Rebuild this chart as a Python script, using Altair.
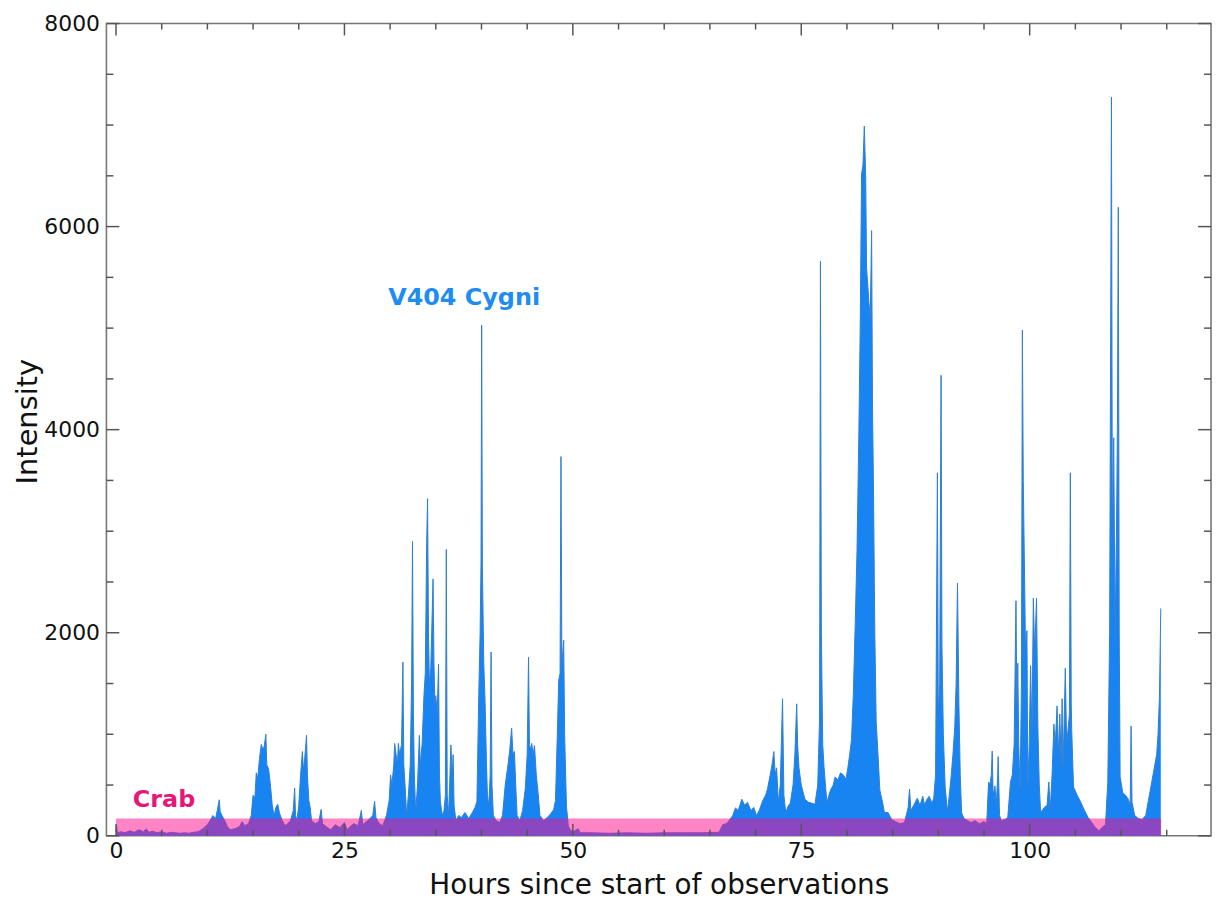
import altair as alt
import pandas as pd

# ---------------- data ----------------
hours_a = [0.0, 0.05, 0.15, 0.5, 1.0, 1.5, 2.0, 2.5, 3.0, 3.3, 3.6, 4.0, 4.5, 5.0, 5.5, 6.0, 6.5, 7.0, 7.5, 8.0,
           8.5, 9.0, 9.5, 10.0, 10.3, 10.6, 10.9, 11.1, 11.3, 11.4, 11.6, 11.9, 12.2, 12.5, 13.0, 13.5, 13.8, 14.1, 14.5, 14.8]
inten_a = [40, 100, 30, 40, 30, 50, 35, 60, 40, 70, 35, 45, 30, 40, 25, 35, 30, 25, 30, 25,
           35, 40, 70, 110, 150, 200, 170, 260, 355, 240, 200, 150, 90, 60, 70, 90, 140, 100, 120, 200]

hours_b = [15.0, 15.2, 15.35, 15.5, 15.7, 15.9, 16.05, 16.2, 16.4, 16.5, 16.7, 16.9, 17.1, 17.3, 17.5, 17.7, 17.9, 18.2,
           18.5, 18.8, 19.1, 19.4, 19.55, 19.65, 19.8, 20.0, 20.2, 20.4, 20.5, 20.65, 20.85, 20.95, 21.1, 21.25, 21.4,
           21.8, 22.2, 22.45, 22.6, 23.0, 23.5, 24.0, 24.5, 25.0, 25.3, 25.6, 26.0, 26.5, 26.85, 27.0, 27.4, 27.8, 28.1,
           28.3, 28.45, 28.8, 29.2, 29.6, 29.9]
inten_b = [400, 370, 620, 560, 760, 900, 860, 870, 1000, 700, 660, 500, 300, 200, 280, 310, 220, 150,
           100, 120, 150, 250, 470, 200, 150, 300, 600, 830, 650, 760, 990, 600, 350, 280, 150,
           120, 140, 260, 120, 90, 60, 110, 80, 130, 60, 90, 120, 100, 250, 110, 140, 170, 200,
           340, 180, 120, 100, 200, 350]

hours_c = [30.05, 30.2, 30.4, 30.5, 30.65, 30.8, 30.9, 31.05, 31.25, 31.4,
           31.5, 31.7, 31.8, 32.0, 32.2, 32.35, 32.45, 32.55, 32.65, 32.8,
           33.0, 33.2, 33.3, 33.5, 33.7, 33.85, 34.0, 34.1, 34.2, 34.3,
           34.45, 34.55, 34.7, 34.8, 34.9, 35.0, 35.15, 35.3, 35.4, 35.5,
           35.7, 35.9, 36.05, 36.15, 36.25, 36.4, 36.55, 36.65, 36.8, 36.9,
           37.0, 37.2, 37.5, 37.8, 38.2, 38.6, 39.0, 39.3, 39.5, 39.7,
           39.85, 39.95, 40.02, 40.1, 40.25, 40.4, 40.55, 40.65, 40.8, 40.95,
           41.05, 41.15, 41.3, 41.6, 42.0, 42.3, 42.6, 42.9, 43.1, 43.3,
           43.45, 43.6, 43.75, 43.9, 44.2, 44.5, 44.8, 45.0, 45.15, 45.25,
           45.4, 45.5, 45.65, 45.8, 46.0, 46.2, 46.4, 46.8, 47.2, 47.6,
           47.9, 48.1, 48.3, 48.45, 48.6, 48.7, 48.8, 49.0, 49.1, 49.3,
           49.5, 49.7]
inten_c = [600, 500, 700, 910, 800, 700, 910, 800, 900, 1710,
           700, 400, 200, 400, 700, 1500, 2900, 1200, 600, 230,
           500, 990, 700, 900, 1380, 1600, 2890, 3320, 2000, 1500,
           1650, 2000, 2530, 1700, 1300, 1380, 1200, 1690, 600, 340,
           200, 250, 400, 2820, 400, 200, 600, 895, 600, 800,
           300, 150, 200, 180, 230, 170, 230, 280, 340, 1380,
           2000, 2700, 5030, 2650, 1700, 1300, 700, 400, 300, 600,
           1810, 500, 200, 150, 130, 200, 500, 700, 850, 1060,
           800, 830, 500, 200, 150, 250, 470, 800, 1760, 900,
           850, 910, 800, 890, 600, 420, 200, 150, 180, 220,
           260, 350, 1000, 1530, 1600, 3735, 1700, 1925, 1000, 290,
           100, 60]

hours_d = [50.0, 50.6, 50.8, 52.0, 54.0, 56.0, 58.0, 60.0, 62.0, 64.0,
           66.0, 66.4, 66.8, 67.1, 67.5, 67.8, 68.1, 68.5, 68.8, 69.1,
           69.5, 69.8, 70.1, 70.4, 70.8, 71.1, 71.3, 71.6, 71.8, 72.0,
           72.15, 72.3, 72.5, 72.7, 72.95, 73.1, 73.3, 73.6, 73.8, 74.1,
           74.3, 74.5, 74.6, 74.75, 75.0, 75.4, 75.8, 76.2, 76.5, 76.8,
           77.0, 77.1, 77.2, 77.35, 77.5, 77.8]
inten_d = [40, 70, 30, 30, 25, 30, 25, 30, 30, 30,
           35, 110, 120, 150, 200, 275, 250, 360, 300, 330,
           250, 280, 200, 250, 350, 400, 460, 600, 700, 830,
           600, 670, 330, 500, 1350, 400, 230, 300, 320, 500,
           800, 1300, 900, 670, 500, 360, 330, 320, 310, 500,
           1140, 5660, 2000, 900, 670, 330]

hours_e = [78.2, 78.5, 78.7, 79.0, 79.3, 79.6, 79.9, 80.1, 80.3, 80.5,
           80.7, 80.9, 81.1, 81.3, 81.45, 81.6, 81.75, 81.9, 82.05, 82.15,
           82.3, 82.4, 82.55, 82.7, 82.8, 82.9, 83.05, 83.2, 83.4, 83.6,
           83.9, 84.1, 84.5, 84.9, 85.3, 85.8, 86.3, 86.7, 86.85, 87.0,
           87.3, 87.7, 88.0, 88.3, 88.5, 88.7, 89.0, 89.3, 89.5, 89.7,
           89.9, 90.0, 90.15, 90.3, 90.4, 90.55, 90.75, 91.0, 91.2, 91.4,
           91.6, 91.8, 91.95, 92.1, 92.25, 92.4, 92.55, 92.8, 93.2, 93.6,
           94.0, 94.5, 95.0, 95.3]
inten_e = [450, 500, 580, 550, 620, 600, 560, 670, 800, 950,
           1400, 2070, 2800, 3940, 5000, 6520, 6600, 6990, 6500, 5590,
           5400, 5260, 5100, 5960, 4200, 3480, 2000, 1130, 800, 450,
           330, 230, 230, 160, 140, 120, 130, 280, 460, 250,
           300, 370, 300, 390, 300, 350, 390, 320, 370, 600,
           3575, 1200, 1500, 4535, 1870, 1000, 480, 240, 400, 580,
           800, 1070, 1500, 2490, 1320, 600, 230, 170, 150, 130,
           150, 120, 140, 120]

hours_f = [95.5, 95.65, 95.8, 95.9, 96.0, 96.2, 96.35, 96.5, 96.55, 96.7,
           96.9, 97.3, 97.6, 97.9, 98.1, 98.3, 98.5, 98.6, 98.7, 98.8,
           98.95, 99.1, 99.2, 99.3, 99.4, 99.55, 99.7, 99.8, 99.95, 100.1,
           100.25, 100.4, 100.55, 100.75, 100.9, 101.05, 101.2, 101.6, 101.9, 102.1,
           102.25, 102.45, 102.65, 102.8, 103.0, 103.15, 103.3, 103.45, 103.55, 103.65,
           103.9, 104.05, 104.2, 104.35, 104.45, 104.55, 104.6, 104.8, 105.2, 105.6,
           106.0, 106.4, 106.8, 107.2, 107.6, 108.0, 108.3, 108.55, 108.75, 108.95,
           109.05, 109.2, 109.35, 109.5, 109.6, 109.7, 109.8, 109.9, 110.2, 110.5,
           110.8, 111.0, 111.1, 111.2, 111.5, 111.9, 112.3, 112.7, 113.0, 113.1,
           113.3, 113.5, 113.7, 113.9, 114.05, 114.2, 114.35]
inten_f = [530, 500, 600, 835, 400, 490, 300, 600, 780, 200,
           150, 160, 180, 530, 600, 900, 2315, 1300, 1700, 900,
           440, 1500, 4980, 3500, 2830, 1800, 2020, 480, 900, 1675,
           1000, 2340, 1800, 2340, 1060, 500, 230, 280, 300, 530,
           250, 600, 1100, 900, 1280, 800, 1200, 700, 1350, 650,
           1650, 900, 1050, 1200, 3575, 1300, 1050, 480, 400, 330,
           250, 180, 130, 80, 50, 90, 110, 530, 2000, 7276,
           3000, 3920, 2000, 2980, 4000, 6190, 2000, 580, 420, 400,
           360, 300, 1080, 330, 200, 170, 160, 200, 350, 400,
           500, 600, 700, 800, 1000, 1360, 2240]

# Crab reference level (band)
crab_start = [0.0]
crab_end = [114.4]
crab_low = [0]
crab_level = [170]

# annotations
label_text = ["V404 Cygni", "Crab"]
label_hours = [38.1, 5.25]
label_intensity = [5300, 353]
label_color = ["#1e8cf0", "#e6177a"]

# axis ticks
x_ticks_major = [0, 25, 50, 75, 100]
x_ticks_minor = [5, 10, 15, 20, 30, 35, 40, 45, 55, 60, 65, 70, 80, 85, 90, 95, 105, 110, 115]
y_ticks_major = [0, 2000, 4000, 6000, 8000]
y_ticks_minor = [500, 1000, 1500, 2500, 3000, 3500, 4500, 5000, 5500, 6500, 7000, 7500]

# ---------------- build ----------------
hours = hours_a + hours_b + hours_c + hours_d + hours_e + hours_f
intensity = inten_a + inten_b + inten_c + inten_d + inten_e + inten_f
assert len(hours) == len(intensity)

FONT = "DejaVu Sans"
BLUE = "#1784f2"
EDGE = "#2f7fd2"
PINK = "#ff0a8c"
TICK = "#555555"
W, H = 1111, 817

series = pd.DataFrame({"h": hours, "v": intensity})
crab = pd.DataFrame({"h": crab_start, "h2": crab_end, "v": crab_low, "v2": crab_level})
labels = pd.DataFrame({"h": label_hours, "v": label_intensity, "t": label_text, "c": label_color})

xs = alt.Scale(domain=[-1.05, 119.85], nice=False, zero=False)
ys = alt.Scale(domain=[0, 8000], nice=False, zero=True)

x_axis = alt.Axis(values=x_ticks_major, ticks=False, grid=False, domain=False,
                  labelFont=FONT, labelFontSize=22, labelColor="#111", labelPadding=5,
                  labelFlush=False, titleFont=FONT, titleFontSize=28, titleFontWeight="normal",
                  titleColor="#111", titleY=58, titleBaseline="alphabetic")
y_axis = alt.Axis(values=y_ticks_major, ticks=False, grid=False, domain=False, format="d",
                  labelFont=FONT, labelFontSize=22, labelColor="#111", labelPadding=7,
                  labelFlush=False, titleFont=FONT, titleFontSize=29, titleFontWeight="normal",
                  titleColor="#111", titleX=-70, titleY=400, titleBaseline="alphabetic")

XT = "Hours since start of observations"
YT = "Intensity"


def X(f="h"):
    return alt.X(f"{f}:Q", scale=xs, axis=x_axis, title=XT)


def Y(f="v"):
    return alt.Y(f"{f}:Q", scale=ys, axis=y_axis, title=YT)


area = alt.Chart(series).mark_area(color=BLUE, interpolate="linear").encode(x=X(), y=Y())
line = alt.Chart(series).mark_line(color=EDGE, strokeWidth=1, interpolate="linear").encode(x=X(), y=Y())

band = alt.Chart(crab).mark_rect(color=PINK, opacity=0.5).encode(
    x=X(), x2="h2:Q", y=Y(), y2="v2:Q")

text = alt.Chart(labels).mark_text(font=FONT, fontSize=24, fontWeight="bold").encode(
    x=X(), y=Y(), text="t:N", color=alt.Color("c:N", scale=None))


def xticks(vals, length):
    d = pd.DataFrame({"h": vals})
    bot = alt.Chart(d).mark_rule(color=TICK, strokeWidth=1.5).encode(
        x=X(), y=alt.value(H), y2=alt.value(H - length))
    top = alt.Chart(d).mark_rule(color=TICK, strokeWidth=1.5).encode(
        x=X(), y=alt.value(0), y2=alt.value(length))
    return [bot, top]


def yticks(vals, length):
    d = pd.DataFrame({"v": vals})
    lef = alt.Chart(d).mark_rule(color=TICK, strokeWidth=1.5).encode(
        y=Y(), x=alt.value(0), x2=alt.value(length))
    rig = alt.Chart(d).mark_rule(color=TICK, strokeWidth=1.5).encode(
        y=Y(), x=alt.value(W), x2=alt.value(W - length))
    return [lef, rig]


layers = [area, line, band, text]
layers += xticks(x_ticks_major, 12) + xticks(x_ticks_minor, 6)
layers += yticks(y_ticks_major, 13) + yticks(y_ticks_minor, 7)

chart = alt.layer(*layers).properties(
    width=W, height=H,
    autosize=alt.AutoSizeParams(type="none"),
    padding={"left": 99, "top": 13, "right": 6, "bottom": 70},
    background="white",
).configure_view(stroke="#777777", strokeWidth=1.6)

chart.save("out.html", embed_options={"renderer": "svg", "actions": False})
